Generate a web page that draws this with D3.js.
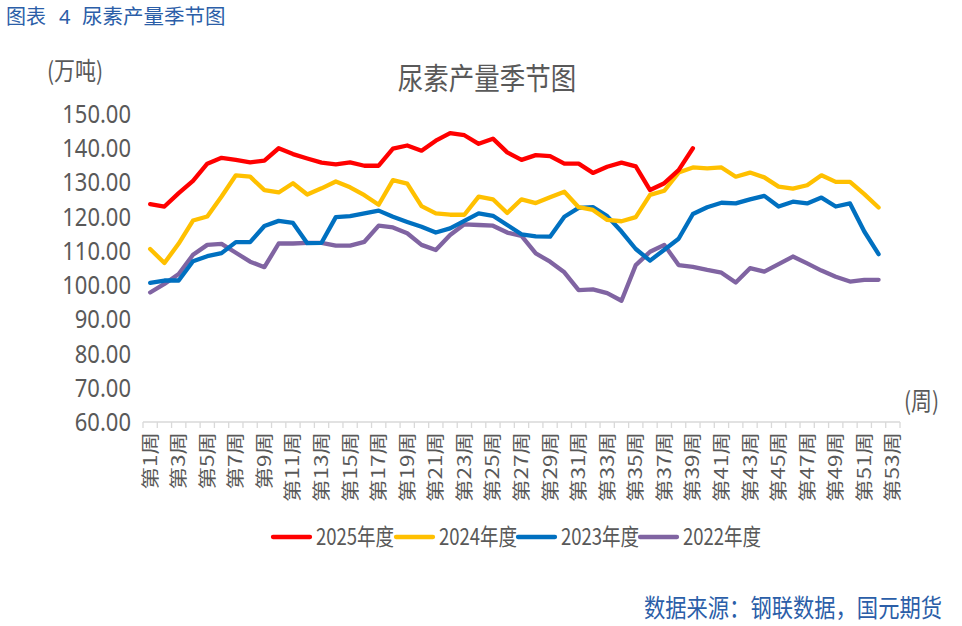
<!DOCTYPE html>
<html>
<head>
<meta charset="utf-8">
<script src="https://cdn.jsdelivr.net/npm/d3@7"></script>
<style>
  body { margin: 0; background: #fff; }
  svg { font-family: "Noto Sans CJK SC", "Noto Sans", sans-serif; }
</style>
</head>
<body>
<svg id="chart" width="962" height="626"></svg>
<script>
// données
const semaines = d3.range(1, 54).map(i => "第" + i + "周");
const annees = ["2025年度", "2024年度", "2023年度", "2022年度"];
const couleurs = ["#ff0000", "#ffc000", "#0070c0", "#8064a2"];
const yTicks = [60, 70, 80, 90, 100, 110, 120, 130, 140, 150];

const v2025 = [123.5, 122.8, 126.7, 130.3, 135.3, 137.0, 136.4, 135.7, 136.2, 139.8,
  138.1, 136.8, 135.6, 135.1, 135.7, 134.7, 134.7, 139.7, 140.6, 139.1,
  142.0, 144.2, 143.6, 141.1, 142.6, 138.6, 136.4, 137.8, 137.5, 135.3,
  135.3, 132.6, 134.4, 135.6, 134.5, 127.6, 129.6, 133.4, 139.8];
const v2024 = [110.4, 106.3, 112.0, 118.7, 119.9, 125.7, 131.9, 131.5, 127.6, 126.9,
  129.6, 126.3, 128.1, 130.1, 128.4, 126.1, 123.3, 130.5, 129.5, 122.9,
  120.8, 120.4, 120.4, 125.7, 124.9, 120.9, 124.9, 123.8, 125.5, 127.1,
  122.6, 121.8, 118.9, 118.5, 119.7, 126.2, 127.4, 132.7, 134.2, 133.9,
  134.2, 131.5, 132.7, 131.3, 128.6, 128.0, 129.0, 131.9, 130.0, 130.0,
  126.4, 122.5];
const v2023 = [100.5, 101.2, 101.2, 106.8, 108.3, 109.2, 112.4, 112.4, 117.1, 118.6,
  118.0, 112.1, 112.2, 119.7, 120.0, 120.8, 121.6, 119.8, 118.3, 116.9,
  115.2, 116.4, 118.6, 120.8, 120.1, 117.4, 114.7, 114.1, 114.0, 119.8,
  122.4, 122.6, 120.0, 115.5, 110.4, 107.0, 110.2, 113.4, 120.6, 122.6,
  123.9, 123.7, 124.9, 125.9, 122.8, 124.2, 123.7, 125.4, 122.8, 123.7,
  115.5, 108.9];
const v2022 = [97.7, 100.2, 103.1, 108.7, 111.6, 111.9, 109.3, 106.7, 105.1, 112.0,
  112.0, 112.2, 112.2, 111.4, 111.4, 112.5, 117.2, 116.7, 115.0, 111.6,
  110.1, 114.5, 117.6, 117.4, 117.2, 115.2, 114.2, 109.1, 106.7, 103.6,
  98.4, 98.6, 97.5, 95.3, 105.7, 109.6, 111.6, 105.7, 105.2, 104.3,
  103.5, 100.6, 104.8, 103.8, 106.0, 108.2, 106.2, 104.1, 102.3, 100.9,
  101.4, 101.4];
const series = [v2025, v2024, v2023, v2022];

const svg = d3.select("#chart");
const gris = "#595959";
const bleuTitre = "#2b5ea8";
const etire = 1.18; // le texte de l'original est un peu étiré en hauteur

// échelles
const x = d3.scaleBand().domain(semaines).range([143, 900]).padding(0);
const y = d3.scaleLinear().domain([60, 150]).range([421.7, 113.3]);

// petit utilitaire pour les textes horizontaux
function texte(tx, ty, contenu, taille, couleur, ancre, k) {
  return svg.append("text")
    .attr("transform", `translate(${tx},${ty}) scale(1,${k || etire})`)
    .attr("text-anchor", ancre || "start")
    .style("font-size", taille + "px")
    .style("fill", couleur)
    .text(contenu);
}

// titres (en haut à gauche, sans étirement pour ne pas sortir du cadre)
texte(6, 23.5, "图表", 20, bleuTitre, "start", 1);
texte(59, 23.5, "4", 20, bleuTitre, "start", 1).style("font-family", "'Noto Sans', sans-serif");
texte(82, 23.5, "尿素产量季节图", 20.5, bleuTitre, "start", 1);

texte(487, 89, "尿素产量季节图", 25.5, gris, "middle");
texte(47, 80, "(万吨)", 21, gris);
texte(904, 410, "(周)", 21, gris);

// axe y (sans ligne)
const axeY = svg.append("g")
  .attr("transform", "translate(131,0)")
  .call(d3.axisLeft(y).tickValues(yTicks).tickSize(0).tickFormat(d3.format(".2f")));
axeY.select(".domain").remove();
axeY.selectAll("text")
  .attr("x", 0).attr("dy", "0.35em")
  .attr("transform", `scale(1,${etire})`)
  .style("font-size", "22px").style("fill", gris)
  .style("font-family", "'Noto Sans', sans-serif");

// axe x
const axeX = svg.append("g").attr("transform", "translate(0,422)");
axeX.append("line")
  .attr("x1", 143).attr("x2", 900)
  .attr("stroke", "#d9d9d9").attr("stroke-width", 1.3);
axeX.selectAll(".graduation")
  .data(d3.range(0, 54))
  .join("line")
  .attr("class", "graduation")
  .attr("x1", i => 143 + i * x.bandwidth())
  .attr("x2", i => 143 + i * x.bandwidth())
  .attr("y1", 0).attr("y2", 6)
  .attr("stroke", "#d9d9d9").attr("stroke-width", 1.3);
axeX.selectAll(".etiquette")
  .data(semaines.filter((d, i) => i % 2 === 0))
  .join("text")
  .attr("class", "etiquette")
  .attr("transform", d => `translate(${x(d) + x.bandwidth() / 2 + 6.5},10) rotate(-90) scale(1.25,1)`)
  .attr("text-anchor", "end")
  .style("font-size", "18px").style("fill", gris)
  .text(d => d);

// courbes
const ligne = d3.line()
  .x((d, i) => x(semaines[i]) + x.bandwidth() / 2)
  .y(d => y(d));

svg.append("g")
  .selectAll("path")
  .data(series.slice().reverse())
  .join("path")
  .attr("d", d => ligne(d))
  .attr("fill", "none")
  .attr("stroke", (d, i) => couleurs[3 - i])
  .attr("stroke-width", 4.3)
  .attr("stroke-linejoin", "round")
  .attr("stroke-linecap", "round");

// légende
const legX = [273, 396, 518, 640];
const legende = svg.append("g")
  .selectAll("g")
  .data(annees)
  .join("g")
  .attr("transform", (d, i) => `translate(${legX[i]},537)`);
legende.append("line")
  .attr("x1", 0).attr("x2", 37)
  .attr("stroke", (d, i) => couleurs[i])
  .attr("stroke-width", 4.3)
  .attr("stroke-linecap", "round");
legende.append("text")
  .attr("transform", `translate(43,0) scale(1,1.25)`)
  .attr("dy", "0.36em")
  .style("font-size", "18.5px").style("fill", gris)
  .text(d => d);

// source
texte(942, 617, "数据来源：钢联数据，国元期货", 21.3, bleuTitre, "end");
</script>
</body>
</html>
